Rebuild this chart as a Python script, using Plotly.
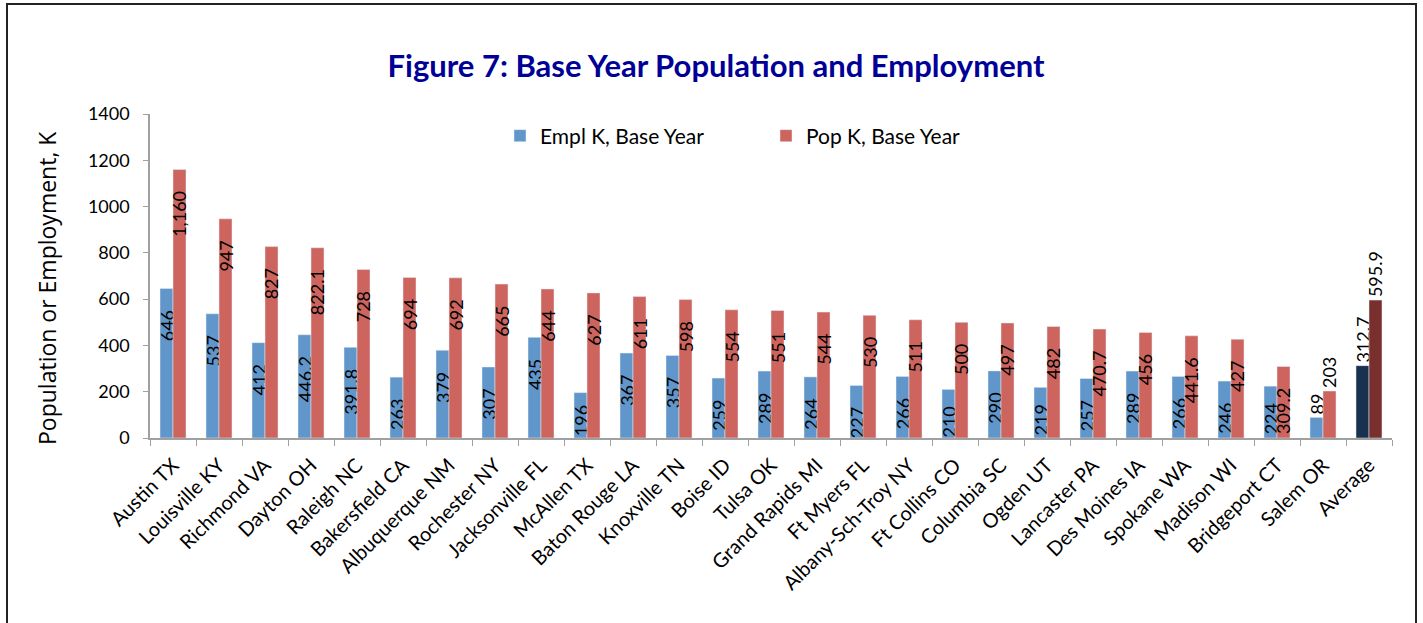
import plotly.graph_objects as go

categories = ["Austin TX", "Louisville KY", "Richmond VA", "Dayton OH", "Raleigh NC",
              "Bakersfield CA", "Albuquerque NM", "Rochester NY", "Jacksonville FL",
              "McAllen TX", "Baton Rouge LA", "Knoxville TN", "Boise ID", "Tulsa OK",
              "Grand Rapids MI", "Ft Myers FL", "Albany-Sch-Troy NY", "Ft Collins CO",
              "Columbia SC", "Ogden UT", "Lancaster PA", "Des Moines IA", "Spokane WA",
              "Madison WI", "Bridgeport CT", "Salem OR", "Average"]
empl = [646, 537, 412, 446.2, 391.8, 263, 379, 307, 435, 196, 367, 357, 259, 289,
        264, 227, 266, 210, 290, 219, 257, 289, 266, 246, 224, 89, 312.7]
pop = [1160, 947, 827, 822.1, 728, 694, 692, 665, 644, 627, 611, 598, 554, 551,
       544, 530, 511, 500, 497, 482, 470.7, 456, 441.6, 427, 309.2, 203, 595.9]
y_ticks = [0, 200, 400, 600, 800, 1000, 1200, 1400]

FONT = "Lato"
W, H = 1423, 623
ML, MR, MT, MB = 150, 31, 114, 185
YMAX = 1400

n = len(categories)
blue, red = "#6096CA", "#CD645E"
navy, maroon = "#17314F", "#782F2E"
empl_colors = [blue] * (n - 1) + [navy]
pop_colors = [red] * (n - 1) + [maroon]
positions = ["inside"] * (n - 2) + ["outside", "outside"]

pw, ph = W - ML - MR, H - MT - MB


def fmt(v):
    return f"{v:,}"


def labels(vals):
    # inside labels sit a little below the bar end, like the original; the
    # offset shrinks when the bar is short so the label stays inside it
    out = []
    for v, p in zip(vals, positions):
        s = fmt(v)
        if p == "inside":
            bar_px = v / YMAX * ph
            free = bar_px - len(s) * 9.5 - 6
            k = int(max(0, min(4, free // 4.5)))
            s = s + "\u00a0" * k
        out.append(s)
    return out


fig = go.Figure()
fig.add_trace(go.Bar(
    name="Empl K, Base Year", x=categories, y=empl,
    marker=dict(color=empl_colors), text=labels(empl),
    textposition=positions, textangle=-90, constraintext="none",
    insidetextanchor="end", cliponaxis=False,
    textfont=dict(family=FONT, size=18, color="black"),
))
fig.add_trace(go.Bar(
    name="Pop K, Base Year", x=categories, y=pop,
    marker=dict(color=pop_colors), text=labels(pop),
    textposition=positions, textangle=-90, constraintext="none",
    insidetextanchor="end", cliponaxis=False,
    textfont=dict(family=FONT, size=18, color="black"),
))

fig.add_shape(type="rect", xref="paper", yref="paper",
              x0=(7 - ML) / pw, x1=(1416 - ML) / pw,
              y0=(H - MB - 640) / ph, y1=(H - MB - 4) / ph,
              line=dict(color="#222222", width=2), fillcolor="rgba(0,0,0,0)", layer="below")

fig.add_annotation(text="Population or Employment, K", textangle=-90,
                   xref="paper", yref="paper", x=(47 - ML) / pw, y=(H - MB - 288) / ph,
                   xanchor="center", yanchor="middle", showarrow=False,
                   font=dict(family="Open Sans", size=23, color="black"))

fig.update_layout(
    width=W, height=H,
    margin=dict(l=ML, r=MR, t=MT, b=MB),
    paper_bgcolor="white", plot_bgcolor="white",
    barmode="group", bargap=0.435, bargroupgap=0,
    font=dict(family=FONT, size=17, color="black"),
    title=dict(text="<b>Figure 7: Base Year Population and Employment</b>",
               x=716 / W, xanchor="center", y=1 - 66 / H, yanchor="middle",
               font=dict(family=FONT, size=31, color="#000096")),
    legend=dict(orientation="h", x=(500 - ML) / pw, xanchor="left",
                y=(H - MB - 136) / ph, yanchor="middle",
                font=dict(family=FONT, size=21, color="black"),
                entrywidth=221, bgcolor="rgba(0,0,0,0)", itemclick=False),
    showlegend=True,
)
fig.update_yaxes(range=[0, YMAX], tickvals=y_ticks, showgrid=False, zeroline=False,
                 showline=True, linecolor="#A0A0A0", linewidth=1.5,
                 ticks="outside", ticklen=5, tickcolor="#A0A0A0",
                 ticklabelstandoff=10,
                 tickfont=dict(family=FONT, size=18))
fig.update_xaxes(showgrid=False, showline=True, linecolor="#A0A0A0", linewidth=1.5,
                 ticks="outside", ticklen=6, tickcolor="#A0A0A0", tickson="boundaries",
                 tickangle=-45, ticklabelstandoff=6, tickfont=dict(family=FONT, size=20))

fig.write_html("out.html")
